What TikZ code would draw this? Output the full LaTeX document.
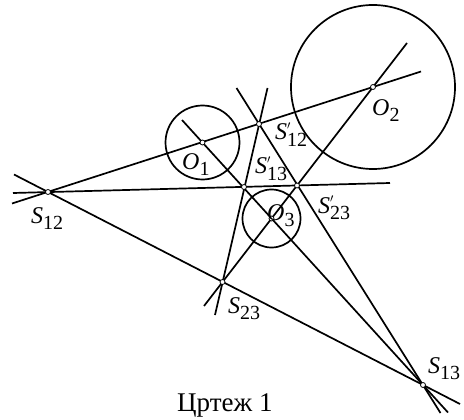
\documentclass[tikz,border=0pt]{standalone}
\usepackage{fontspec}
\setmainfont{Liberation Serif}
\newcommand{\lsub}[1]{\raisebox{-6pt}{\upshape\fontsize{20}{20}\selectfont #1}}
\newcommand{\lpsub}[1]{\raisebox{-6pt}{\upshape\fontsize{20}{20}\selectfont
  \rlap{\raisebox{16.5pt}{\fontsize{12}{12}\selectfont$\prime$}}#1}}

\begin{document}
\begin{tikzpicture}[x=1pt,y=-1pt,
  ln/.style={line width=1.7pt},
  pt/.style={circle,draw,fill=white,line width=0.8pt,inner sep=0pt,minimum size=5pt},
  lbl/.style={anchor=base west,inner sep=0pt,font=\fontsize{24}{24}\selectfont\itshape}]
  \useasboundingbox (0,0) rectangle (464,420);

  \coordinate (o1) at (202.5,142.5);
  \coordinate (o2) at (373,87);
  \coordinate (o3) at (271.5,218.5);
  \coordinate (s12) at (48,192);
  \coordinate (s13) at (423,385);
  \coordinate (s23) at (222.5,282);
  \coordinate (t12) at (259,124);
  \coordinate (t13) at (244,187);
  \coordinate (t23) at (297,185.5);

  \draw[ln] (o1) circle[radius=37pt];
  \draw[ln] (o2) circle[radius=82pt];
  \draw[ln] (o3) circle[radius=29pt];

  \coordinate (a1) at (12,203.5);  \coordinate (a2) at (421,71.5);
  \coordinate (b1) at (13,193);    \coordinate (b2) at (390,183);
  \coordinate (c1) at (14,174.5);  \coordinate (c2) at (460,404);
  \coordinate (d1) at (182,120);   \coordinate (d2) at (448,412.5);
  \coordinate (e1) at (236.5,88);  \coordinate (e2) at (440.5,413);
  \coordinate (f1) at (407,43);    \coordinate (f2) at (204,306);
  \coordinate (g1) at (267.5,88);  \coordinate (g2) at (215,315);

  \draw[ln] (a1) -- (a2);
  \draw[ln] (b1) -- (b2);
  \draw[ln] (c1) -- (c2);
  \draw[ln] (d1) -- (d2);
  \draw[ln] (e1) -- (e2);
  \draw[ln] (f1) -- (f2);
  \draw[ln] (g1) -- (g2);

  \foreach \p in {o1,o2,o3,s12,s13,s23,t12,t13,t23}
    \node[pt] (m\p) at (\p) {};

  \node[lbl] (lo1) at (182,169) {O\lsub{1}};
  \node[lbl] (lo2) at (372,116) {O\lsub{2}};
  \node[lbl] (lo3) at (267,220) {O\lsub{3}};
  \node[lbl] (ls12) at (31,223) {S\lsub{12}};
  \node[lbl] (ls13) at (428,373) {S\lsub{13}};
  \node[lbl] (ls23) at (228,313) {S\lsub{23}};
  \node[lbl] (lt12) at (275,140) {S\lpsub{12}};
  \node[lbl] (lt13) at (255,174) {S\lpsub{13}};
  \node[lbl] (lt23) at (318,213) {S\lpsub{23}};

  \node[anchor=base west,inner sep=0pt,font=\fontsize{27}{27}\selectfont] (cap) at (177,411) {Цртеж 1};
\end{tikzpicture}
\end{document}
